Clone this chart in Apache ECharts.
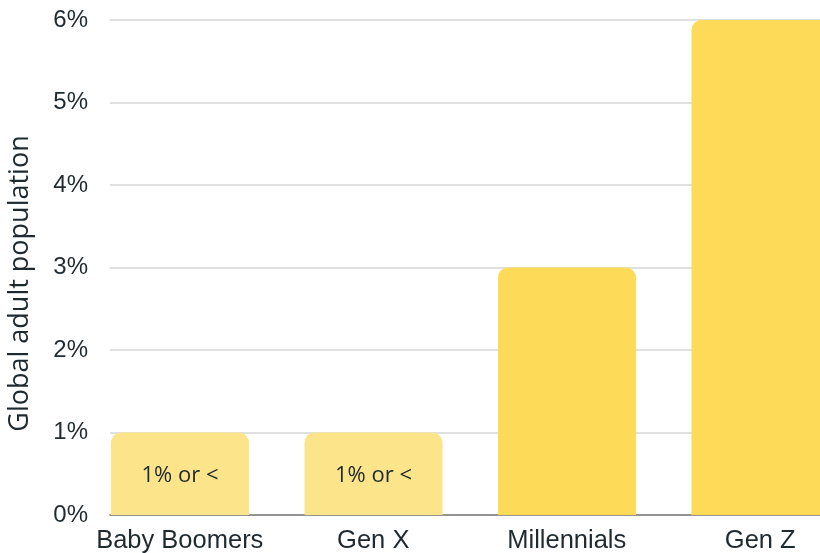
<!DOCTYPE html>
<html>
<head>
<meta charset="utf-8">
<script src="https://cdn.jsdelivr.net/npm/echarts@6/dist/echarts.min.js"></script>
<style>
  html, body { margin: 0; padding: 0; background: #ffffff; overflow: hidden; }
  #chart { width: 820px; height: 553px; }
</style>
</head>
<body>
<div id="chart"></div>
<script>
// Share of global adult population by generation
const generations = ['Baby Boomers', 'Gen X', 'Millennials', 'Gen Z'];
const shares = [1, 1, 3, 6];
const barNotes = ['1% or <', '1% or <', '', ''];
const yTicks = [0, 1, 2, 3, 4, 5, 6];

const LIGHT = '#FCE48A';
const STRONG = '#FDDA58';
const TEXT = '#1f2a30';
const FONT = 'Liberation Sans, Arial, sans-serif';
const FONT_SOFT = 'Open Sans, sans-serif';

const chart = echarts.init(document.getElementById('chart'));

const barData = shares.map((v, i) => ({
  value: v,
  itemStyle: { color: barNotes[i] ? LIGHT : STRONG },
  label: { show: !!barNotes[i], formatter: barNotes[i] }
}));

chart.setOption({
  animation: false,
  backgroundColor: '#ffffff',
  // plot runs past the right edge so the last bar is clipped
  grid: { left: 110, width: 774, top: 20, bottom: 38, outerBoundsMode: 'none', containLabel: false },
  xAxis: {
    type: 'category',
    data: generations,
    axisTick: { show: false },
    axisLine: { lineStyle: { color: '#7a7a7a', width: 1.5 } },
    axisLabel: {
      interval: 0,
      color: TEXT, fontSize: 25.5, fontFamily: FONT, margin: 13,
      align: 'center', padding: [0, 54, 0, 0]
    }
  },
  yAxis: {
    type: 'value',
    min: yTicks[0],
    max: yTicks[yTicks.length - 1],
    interval: 1,
    name: 'Global adult population',
    nameLocation: 'middle',
    nameGap: 76,
    nameRotate: 90,
    nameTextStyle: { color: TEXT, fontSize: 27, fontFamily: FONT_SOFT, padding: [0, 32, 0, 0] },
    axisLine: { show: false },
    axisTick: { show: false },
    axisLabel: { color: TEXT, fontSize: 24, fontFamily: FONT, margin: 22, formatter: '{value}%' },
    splitLine: { lineStyle: { color: '#d6d6d6', width: 1.5 } }
  },
  series: [
    {
      type: 'bar',
      data: barData,
      barWidth: 138,
      barGap: 0,
      itemStyle: { borderRadius: [10, 10, 0, 0] },
      label: {
        position: 'inside',
        offset: [0, 2],
        color: TEXT, fontSize: 22, fontFamily: FONT_SOFT
      }
    },
    {
      // spacer series that keeps each bar at the left side of its band
      type: 'bar',
      data: shares.map(() => 0),
      barWidth: 53.5,
      silent: true,
      itemStyle: { color: 'transparent' }
    }
  ]
});
</script>
</body>
</html>
